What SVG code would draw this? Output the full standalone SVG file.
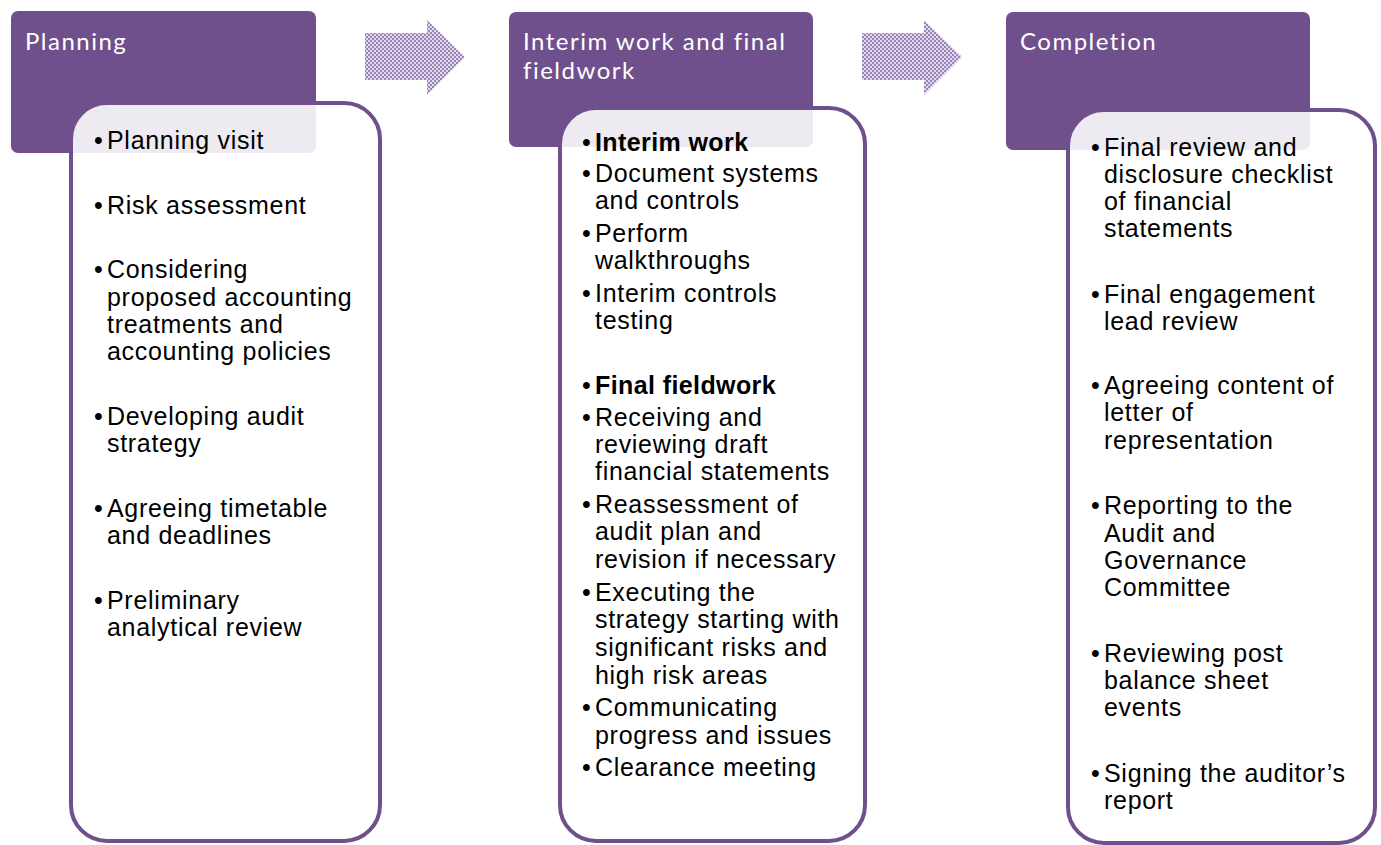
<svg xmlns="http://www.w3.org/2000/svg" width="1381" height="845" viewBox="0 0 1381 845">
  <style>
    .hdr { fill: #6F508D; }
    .hdr-text { font-family: Lato, "Open Sans", "Liberation Sans", sans-serif; font-size: 24px; letter-spacing: 1.5px; fill: #FFFFFF; }
    .card { fill: #FFFFFF; fill-opacity: 0.88; stroke: #6F508D; stroke-width: 4; }
    .item { font-family: "Liberation Sans", Arial, sans-serif; font-size: 25px; letter-spacing: 0.7px; fill: #000000; }
    .dot { font-size: 25px; letter-spacing: 0; }
    .b { font-weight: bold; letter-spacing: 0.4px; }
    .flow { fill: url(#dots); }
  </style>
  <defs>
    <pattern id="dots" width="4" height="4" patternUnits="userSpaceOnUse">
      <rect width="4" height="4" fill="#9A84B8"/>
      <rect x="0" y="0" width="2" height="2" fill="#E2DAEC"/>
      <rect x="2" y="2" width="2" height="2" fill="#E2DAEC"/>
    </pattern>
  </defs>
  <rect width="1381" height="845" fill="#FFFFFF"/>

  <!-- stage arrows -->
  <g id="connectors">
    <polygon class="flow" points="365,33 427,33 427,20 465,57 427,95 427,80 365,80"/>
    <polygon class="flow" points="862,33 924,33 924,20 962,57 924,95 924,80 862,80"/>
  </g>

  <!-- Planning -->
  <g id="planning">
    <rect class="hdr" x="11" y="11" width="305" height="142" rx="7"/>
    <text class="hdr-text" x="25" y="50">Planning</text>
    <rect class="card" x="71" y="103" width="309" height="738" rx="36"/>
    <text class="item">
      <tspan class="dot" x="94" y="149">•</tspan><tspan x="107" y="149">Planning visit</tspan>
      <tspan class="dot" x="94" y="214">•</tspan><tspan x="107" y="214">Risk assessment</tspan>
      <tspan class="dot" x="94" y="278">•</tspan><tspan x="107" y="278">Considering</tspan>
      <tspan x="107" y="306">proposed accounting</tspan>
      <tspan x="107" y="333">treatments and</tspan>
      <tspan x="107" y="360">accounting policies</tspan>
      <tspan class="dot" x="94" y="425">•</tspan><tspan x="107" y="425">Developing audit</tspan>
      <tspan x="107" y="452">strategy</tspan>
      <tspan class="dot" x="94" y="517">•</tspan><tspan x="107" y="517">Agreeing timetable</tspan>
      <tspan x="107" y="544">and deadlines</tspan>
      <tspan class="dot" x="94" y="609">•</tspan><tspan x="107" y="609">Preliminary</tspan>
      <tspan x="107" y="636">analytical review</tspan>
    </text>
  </g>

  <!-- Interim work and final fieldwork -->
  <g id="fieldwork">
    <rect class="hdr" x="509" y="12" width="304" height="135" rx="7"/>
    <text class="hdr-text"><tspan x="523" y="50">Interim work and final</tspan><tspan x="523" y="79">fieldwork</tspan></text>
    <rect class="card" x="560" y="108" width="305" height="733" rx="36"/>
    <text class="item">
      <tspan class="dot" x="582" y="151">•</tspan><tspan class="b" x="595" y="151">Interim work</tspan>
      <tspan class="dot" x="582" y="182">•</tspan><tspan x="595" y="182">Document systems</tspan>
      <tspan x="595" y="209">and controls</tspan>
      <tspan class="dot" x="582" y="242">•</tspan><tspan x="595" y="242">Perform</tspan>
      <tspan x="595" y="269">walkthroughs</tspan>
      <tspan class="dot" x="582" y="302">•</tspan><tspan x="595" y="302">Interim controls</tspan>
      <tspan x="595" y="329">testing</tspan>
      <tspan class="dot" x="582" y="394">•</tspan><tspan class="b" x="595" y="394">Final fieldwork</tspan>
      <tspan class="dot" x="582" y="426">•</tspan><tspan x="595" y="426">Receiving and</tspan>
      <tspan x="595" y="453">reviewing draft</tspan>
      <tspan x="595" y="480">financial statements</tspan>
      <tspan class="dot" x="582" y="513">•</tspan><tspan x="595" y="513">Reassessment of</tspan>
      <tspan x="595" y="540">audit plan and</tspan>
      <tspan x="595" y="568">revision if necessary</tspan>
      <tspan class="dot" x="582" y="601">•</tspan><tspan x="595" y="601">Executing the</tspan>
      <tspan x="595" y="628">strategy starting with</tspan>
      <tspan x="595" y="656">significant risks and</tspan>
      <tspan x="595" y="684">high risk areas</tspan>
      <tspan class="dot" x="582" y="716">•</tspan><tspan x="595" y="716">Communicating</tspan>
      <tspan x="595" y="744">progress and issues</tspan>
      <tspan class="dot" x="582" y="776">•</tspan><tspan x="595" y="776">Clearance meeting</tspan>
    </text>
  </g>

  <!-- Completion -->
  <g id="completion">
    <rect class="hdr" x="1006" y="12" width="304" height="138" rx="7"/>
    <text class="hdr-text" x="1020" y="50">Completion</text>
    <rect class="card" x="1068" y="110" width="307" height="733" rx="36"/>
    <text class="item">
      <tspan class="dot" x="1091" y="156">•</tspan><tspan x="1104" y="156">Final review and</tspan>
      <tspan x="1104" y="183">disclosure checklist</tspan>
      <tspan x="1104" y="210">of financial</tspan>
      <tspan x="1104" y="237">statements</tspan>
      <tspan class="dot" x="1091" y="303">•</tspan><tspan x="1104" y="303">Final engagement</tspan>
      <tspan x="1104" y="330">lead review</tspan>
      <tspan class="dot" x="1091" y="394">•</tspan><tspan x="1104" y="394">Agreeing content of</tspan>
      <tspan x="1104" y="421">letter of</tspan>
      <tspan x="1104" y="449">representation</tspan>
      <tspan class="dot" x="1091" y="514">•</tspan><tspan x="1104" y="514">Reporting to the</tspan>
      <tspan x="1104" y="542">Audit and</tspan>
      <tspan x="1104" y="569">Governance</tspan>
      <tspan x="1104" y="596">Committee</tspan>
      <tspan class="dot" x="1091" y="662">•</tspan><tspan x="1104" y="662">Reviewing post</tspan>
      <tspan x="1104" y="689">balance sheet</tspan>
      <tspan x="1104" y="716">events</tspan>
      <tspan class="dot" x="1091" y="782">•</tspan><tspan x="1104" y="782">Signing the auditor’s</tspan>
      <tspan x="1104" y="809">report</tspan>
    </text>
  </g>
</svg>
